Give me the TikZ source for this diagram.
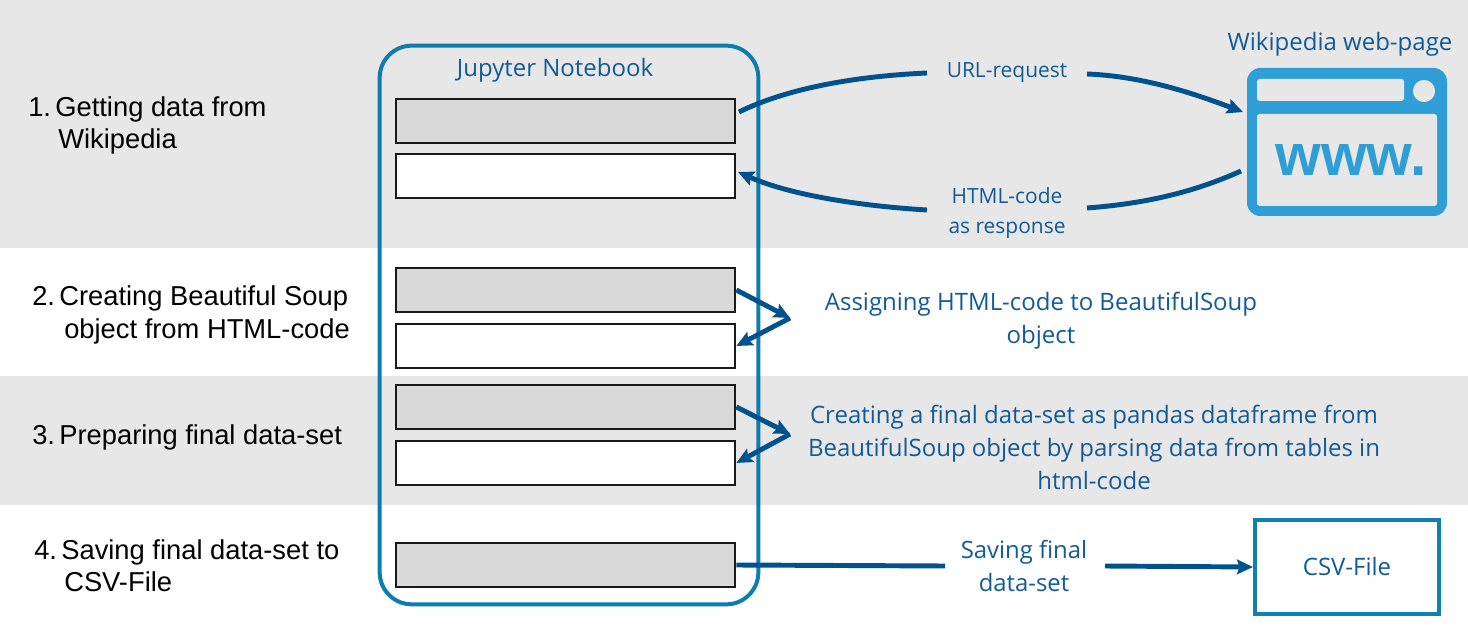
\documentclass[tikz,border=0pt]{standalone}
\usepackage{fontspec}
\setmainfont{Liberation Sans}
\newfontfamily\labfont{Open Sans}
\usetikzlibrary{arrows.meta}
\definecolor{band}{HTML}{E7E7E7}
\definecolor{cellgray}{HTML}{D9D9D9}
\definecolor{frameblue}{HTML}{0F7CB0}
\definecolor{linkblue}{HTML}{00528F}
\definecolor{textblue}{HTML}{135A96}
\definecolor{iconblue}{HTML}{2F9DD6}
\newcommand{\numgap}{\hspace*{3.2pt}}
\tikzset{
  x=0.75pt,y=-0.75pt,
  cellbox/.style={draw=black!90,line width=1.5pt,minimum width=254.5pt,minimum height=33pt,inner sep=0pt,anchor=north west},
  graycell/.style={cellbox,fill=cellgray},
  whitecell/.style={cellbox,fill=white},
  steplabel/.style={font=\fontsize{20.5pt}{24.2pt}\selectfont,align=left,anchor=west,text=black,inner sep=0pt},
  bluelabel/.style={font=\labfont\fontsize{15.7pt}{22.5pt}\selectfont,align=center,text=textblue,inner sep=0pt},
  bluebig/.style={font=\labfont\fontsize{18pt}{24.7pt}\selectfont,align=center,text=textblue,inner sep=0pt},
  link/.style={draw=linkblue,line width=3.7pt},
  linkarrow/.style={link,-{Stealth[length=12pt,width=11pt,inset=2pt]}},
}
\begin{document}
\begin{tikzpicture}
\useasboundingbox (0,0) rectangle (1468,627);
\fill[white] (0,0) rectangle (1468,627);
\fill[band] (0,0) rectangle (1468,248);
\fill[band] (0,376) rectangle (1468,505);

\node[steplabel] (s1) at (28,125.5) {1.\numgap Getting data from\\[0pt]\hspace*{22.5pt}Wikipedia};
\node[steplabel] (s2) at (32,315) {2.\numgap Creating Beautiful Soup\\[0pt]\hspace*{24pt}object from HTML-code};
\node[steplabel] (s3) at (32,437) {3.\numgap Preparing final data-set};
\node[steplabel] (s4) at (34,566) {4.\numgap Saving final data-set to\\[0pt]\hspace*{22.5pt}CSV-File};

\node[draw=frameblue,line width=3pt,rounded corners=24pt,minimum width=284pt,minimum height=419pt,inner sep=0pt] (nb) at (569,325) {};
\node[bluebig] (nbt) at (555,70) {Jupyter Notebook};

\node[graycell]  (c1) at (395,98)  {};
\node[whitecell] (c2) at (395,153) {};
\node[graycell]  (c3) at (395,267) {};
\node[whitecell] (c4) at (395,323) {};
\node[graycell]  (c5) at (395,384) {};
\node[whitecell] (c6) at (395,440) {};
\node[graycell]  (c7) at (395,542) {};

\node[bluelabel] (url) at (1007,73) {URL-request};
\node[bluelabel] (html) at (1007,213.5) {HTML-code\\as response};
\node[bluebig] (wiki) at (1340,44) {Wikipedia web-page};
\node[bluebig] (assign) at (1041,320.5) {Assigning HTML-code to BeautifulSoup\\object};
\node[bluebig] (final) at (1094,447.5) {Creating a final data-set as pandas dataframe from\\BeautifulSoup object by parsing data from tables in\\html-code};
\node[bluelabel,font=\labfont\fontsize{17.9pt}{24.7pt}\selectfont] (save) at (1024,566) {Saving final\\data-set};

% browser icon
\node[fill=iconblue,rounded corners=10pt,minimum width=150pt,minimum height=111pt,inner sep=0pt] (icon) at (1347,142) {};
\fill[band,rounded corners=2pt] (1257,79) rectangle (1404,101);
\fill[band,rounded corners=2pt] (1257,114) rectangle (1437,206);
\fill[band] (1424,91) circle (8.3pt);
\node[font=\bfseries\fontsize{44pt}{44pt}\selectfont,text=iconblue,inner sep=0pt] (www) at (1351,160) {www.};

\node[draw=frameblue!90!iconblue,line width=3pt,fill=white,minimum width=138pt,minimum height=71pt,inner sep=0pt] (csv) at (1347,567) {};
\node[bluelabel,font=\labfont\fontsize{18pt}{20pt}\selectfont] (csvt) at (1347,566) {CSV-File};

% connectors
\coordinate (u0) at (739,112);
\coordinate (u1) at (927,73);
\coordinate (u2) at (1087,74);
\coordinate (u3) at (1243,112);
\coordinate (h0) at (1241,171);
\coordinate (h1) at (1087,208);
\coordinate (h2) at (927,210);
\coordinate (h3) at (738,172);
\draw[link] (u0) .. controls (790,87) and (860,76) .. (u1);
\draw[linkarrow] (u2) .. controls (1140,76) and (1190,92) .. (u3);
\draw[link] (h0) .. controls (1190,194) and (1140,204) .. (h1);
\draw[linkarrow] (h2) .. controls (860,206) and (790,195) .. (h3);

\coordinate (a1) at (790,318);
\coordinate (a2) at (790,434);
\draw[linkarrow] (c3.east) -- (a1);
\draw[linkarrow] (a1) -- (c4.east);
\draw[linkarrow] (c5.east) -- (a2);
\draw[linkarrow] (a2) -- (c6.east);

\coordinate (sv0) at (945,566);
\coordinate (sv1) at (1105,566);
\draw[link] (c7.east) -- (sv0);
\draw[linkarrow] (sv1) -- (csv.west);
\end{tikzpicture}
\end{document}
